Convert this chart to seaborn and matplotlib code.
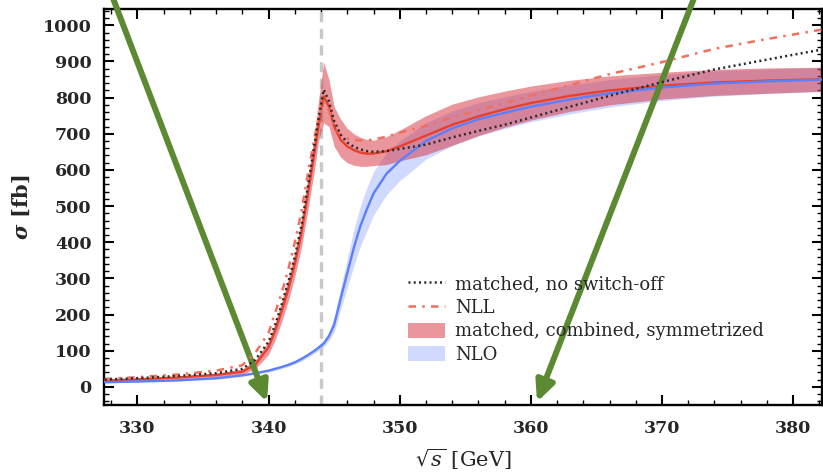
import numpy as np
import pandas as pd
import seaborn as sns
import matplotlib.pyplot as plt
from matplotlib.lines import Line2D
from matplotlib.patches import Patch
from matplotlib.ticker import MultipleLocator

# sqrt(s) grid [GeV]
sqrt_s = [327.5, 330, 333, 336, 338, 339, 340, 340.5, 341, 341.5, 342, 342.5, 343,
          343.5, 343.8, 344.2, 344.6, 345, 345.5, 346, 346.5, 347, 347.5, 348, 349,
          350, 352, 354, 356, 358, 360, 363, 366, 370, 374, 378, 382.5]

# matched, combined, symmetrized (central line + band)
matched = [18, 21, 26, 33, 42, 62, 110, 155, 210, 270, 340, 425, 535,
           650, 720, 803, 775, 720, 683, 665, 655, 648, 645, 645, 652,
           665, 695, 725, 748, 768, 785, 805, 820, 833, 842, 847, 851]
matched_lo = [15, 18, 22, 28, 35, 50, 90, 130, 180, 238, 305, 385, 490,
              600, 680, 730, 720, 665, 635, 620, 613, 610, 610, 612, 615,
              625, 642, 668, 695, 718, 738, 762, 780, 796, 806, 812, 818]
matched_hi = [21, 24, 30, 38, 50, 75, 128, 178, 238, 300, 372, 462, 580,
              700, 790, 898, 850, 775, 740, 715, 700, 690, 684, 682, 692,
              710, 750, 782, 802, 818, 832, 848, 860, 870, 878, 882, 884]

# matched, no switch-off
no_switch = [20, 24, 30, 38, 50, 75, 125, 172, 228, 290, 360, 445, 555,
             670, 740, 822, 790, 735, 697, 676, 664, 657, 652, 650, 652,
             658, 670, 690, 708, 725, 745, 775, 805, 843, 878, 905, 935]

# NLL
nll = [22, 27, 34, 45, 60, 95, 150, 205, 260, 325, 400, 485, 590,
       690, 740, 790, 765, 720, 697, 687, 683, 682, 682, 684, 692,
       703, 722, 745, 765, 785, 805, 835, 865, 898, 935, 962, 990]

# NLO (central line + band half width)
nlo = [13, 15, 18, 24, 32, 38, 45, 50, 55, 61, 68, 77, 88,
       100, 108, 120, 140, 172, 245, 315, 385, 445, 492, 535, 590,
       625, 680, 715, 740, 758, 775, 795, 812, 828, 839, 845, 850]
nlo_hw = [2, 2, 2, 3, 3, 3, 4, 4, 4, 5, 5, 6, 6,
          7, 8, 9, 12, 20, 30, 40, 50, 55, 60, 60, 58,
          55, 50, 48, 46, 44, 42, 40, 38, 36, 35, 34, 33]

threshold = 344.0

df = pd.DataFrame({"x": sqrt_s, "matched": matched, "no_switch": no_switch,
                   "nll": nll, "nlo": nlo})
nlo_arr = np.array(nlo)
nlo_hw_arr = np.array(nlo_hw)

sns.set_theme(style="ticks")
plt.rcParams["font.family"] = ["DejaVu Serif"]
plt.rcParams["mathtext.fontset"] = "dejavuserif"

RED = "#e8402c"
BLUE = "#5b7fff"
NLL_C = "#f07060"
GREEN = "#5b8a33"
RED_BAND = "#d73741"
BLUE_BAND = "#6482ff"

fig = plt.figure(figsize=(8.23, 4.74), dpi=100)
ax = fig.add_axes([0.1264, 0.1456, 0.8724, 0.8354])

# bands
ax.fill_between(df["x"], nlo_arr - nlo_hw_arr, nlo_arr + nlo_hw_arr,
                color=BLUE_BAND, alpha=0.3, lw=0, zorder=1)
ax.fill_between(df["x"], matched_lo, matched_hi,
                color=RED_BAND, alpha=0.52, lw=0, zorder=2)

# threshold line
ax.axvline(threshold, color="#c8c8c8", lw=2.4, dashes=(3, 2), zorder=1.5)

# lines
sns.lineplot(data=df, x="x", y="matched", ax=ax, color=RED, lw=1.7,
             estimator=None, zorder=3)
sns.lineplot(data=df, x="x", y="nlo", ax=ax, color=BLUE, lw=1.7,
             estimator=None, zorder=3)
sns.lineplot(data=df, x="x", y="nll", ax=ax, color=NLL_C, lw=1.8,
             estimator=None, zorder=4)
ax.lines[-1].set_dashes([3, 2.5, 1, 2.5])
sns.lineplot(data=df, x="x", y="no_switch", ax=ax, color="#2a2a2a", lw=1.8,
             estimator=None, zorder=4)
ax.lines[-1].set_dashes([0.8, 1.3])

ax.set_xlim(327.45, 382.2)
ax.set_ylim(-50, 1045)
ax.xaxis.set_major_locator(MultipleLocator(10))
ax.xaxis.set_minor_locator(MultipleLocator(2))
ax.yaxis.set_minor_locator(MultipleLocator(20))
ax.set_yticks(range(0, 1001, 100))

for s in ax.spines.values():
    s.set_linewidth(1.7)
    s.set_color("black")
ax.tick_params(which="both", direction="in", top=True, right=True, color="black")
ax.tick_params(which="major", length=7, width=1.5, labelsize=12.5)
ax.tick_params(which="minor", length=3.5, width=1.0)
ax.tick_params(axis="x", which="major", pad=11)
ax.tick_params(axis="y", which="major", pad=9)
for lab in ax.get_xticklabels() + ax.get_yticklabels():
    lab.set_fontweight("bold")

ax.set_xlabel(r"$\sqrt{s}$ [GeV]", fontsize=15, labelpad=7)
ax.set_ylabel(r"$\mathbfit{\sigma}$ [fb]", fontsize=15, fontweight="bold", labelpad=8)

handles = [
    Line2D([], [], color="#2a2a2a", lw=1.8, dashes=[0.8, 1.3]),
    Line2D([], [], color=NLL_C, lw=1.8, dashes=[3, 2.5, 1, 2.5]),
    Patch(facecolor=RED_BAND, alpha=0.52, lw=0),
    Patch(facecolor=BLUE_BAND, alpha=0.3, lw=0),
]
labels = ["matched, no switch-off", "NLL", "matched, combined, symmetrized", "NLO"]
ax.legend(handles, labels, loc="lower left", bbox_to_anchor=(0.424, 0.103),
          frameon=False, fontsize=13, handlelength=2.0, handleheight=0.9,
          labelspacing=0.32, borderpad=0, borderaxespad=0, handletextpad=0.6)

# green annotation arrows
arrow_kw = dict(arrowstyle="-|>,head_length=0.6,head_width=0.28", color=GREEN,
                lw=4.3, mutation_scale=20, shrinkA=0, shrinkB=0)
ax.annotate("", xy=(0.3244, 0.152), xytext=(0.1337, 1.02), xycoords="figure fraction",
            textcoords="figure fraction", arrowprops=arrow_kw, annotation_clip=False)
ax.annotate("", xy=(0.6525, 0.152), xytext=(0.8469, 1.02), xycoords="figure fraction",
            textcoords="figure fraction", arrowprops=arrow_kw, annotation_clip=False)

fig.savefig("out.png", dpi=100)
